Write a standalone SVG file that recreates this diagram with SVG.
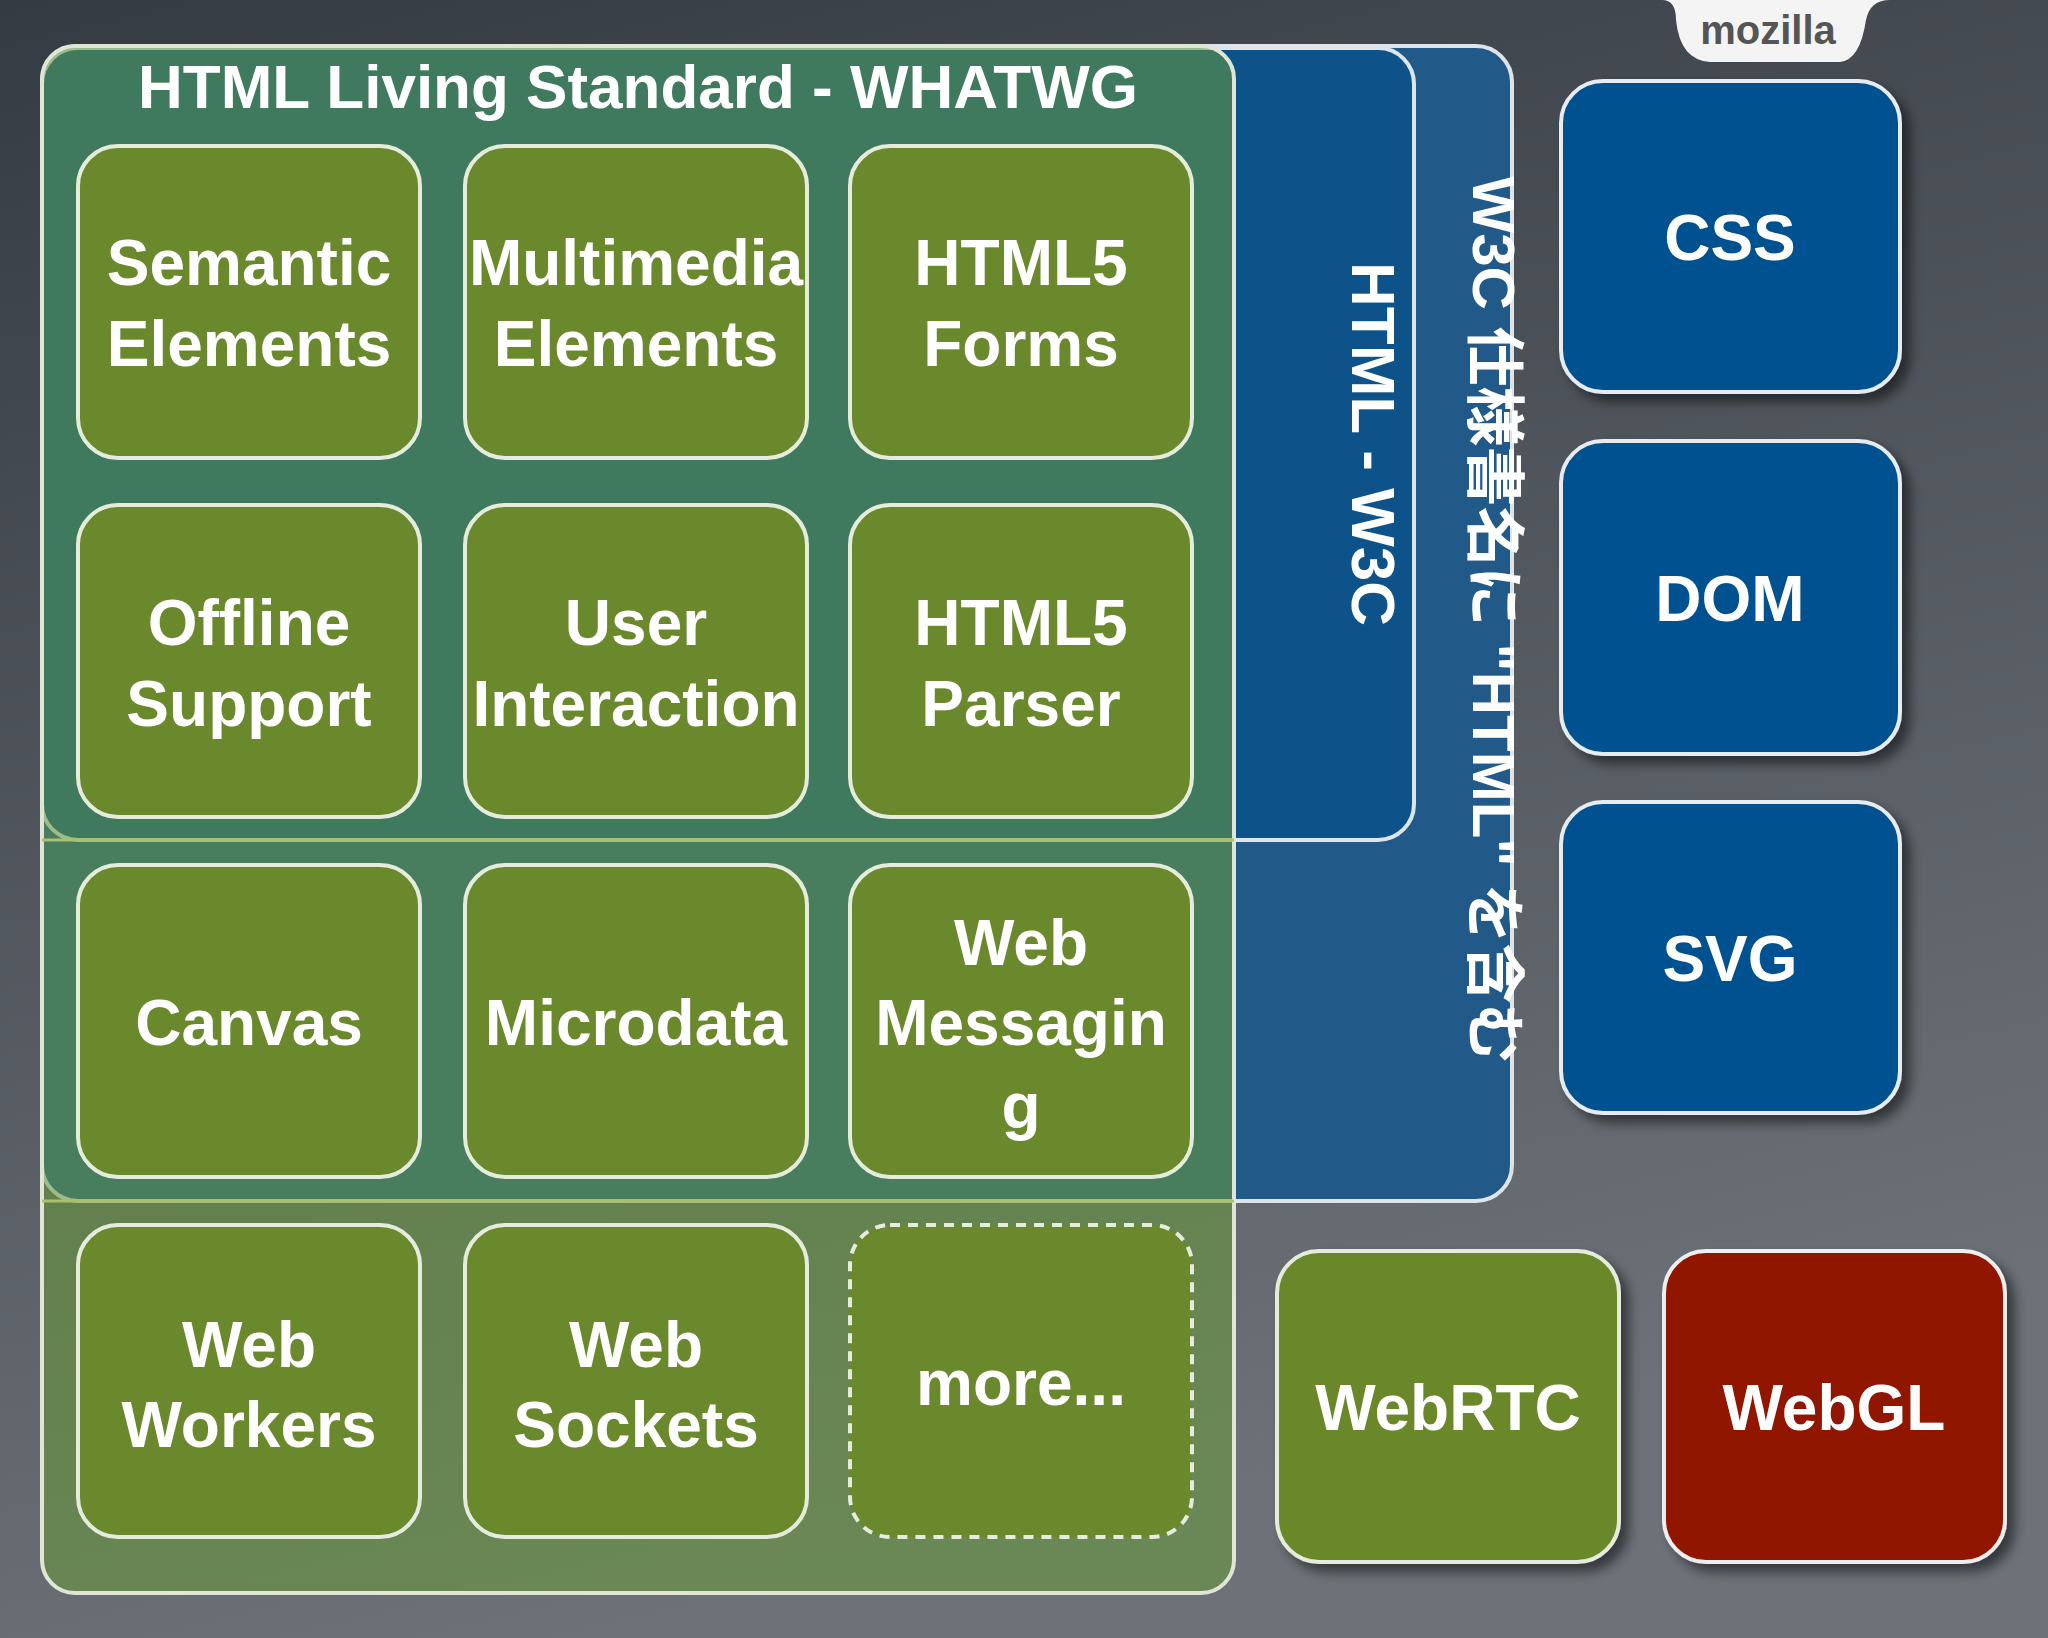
<svg xmlns="http://www.w3.org/2000/svg" width="2048" height="1638" viewBox="0 0 2048 1638">
<defs>
<linearGradient id="bg" x1="0" y1="0" x2="0.3" y2="1"><stop offset="0" stop-color="#353b42"/><stop offset="1" stop-color="#6c7278"/></linearGradient>
<filter id="sh" x="-10%" y="-10%" width="130%" height="130%"><feDropShadow dx="8" dy="8" stdDeviation="6" flood-color="#000" flood-opacity="0.5"/></filter>
</defs>
<style>
.t{fill:#6a882c;stroke:#e6ecdc;stroke-width:4}
.b{fill:#06518f;stroke:#e6ecf2;stroke-width:4}
.r{fill:#911404;stroke:#eee;stroke-width:4}
text{font-family:"Liberation Sans","Noto Sans CJK JP",sans-serif;font-weight:bold;fill:#fff;text-anchor:middle}
.l{font-size:64px}
</style>
<rect width="2048" height="1638" fill="url(#bg)"/>
<path d="M1662 0 Q1676 0 1676 20 Q1680 60 1710 62 L1840 62 Q1860 60 1866 20 Q1870 0 1890 0 Z" fill="#f4f4f4"/>
<text x="1768" y="44" font-size="40" style="fill:#555">mozilla</text>
<g id="w3c-spec"><rect x="42" y="46" width="1470" height="1155" rx="36" fill="#215a88" stroke="#dde4ea" stroke-width="4"/>
<text transform="translate(1473 620) rotate(90)" font-size="60">W3C 仕様書名に "HTML" を含む</text></g>
<g id="html-w3c"><rect x="42" y="48" width="1372" height="792" rx="36" fill="#0d5289" stroke="#dde4ea" stroke-width="4"/>
<text transform="translate(1352 444) rotate(90)" font-size="62">HTML - W3C</text></g>
<g id="whatwg"><rect x="42" y="46" width="1192" height="1547" rx="33" fill="#6a9a3a" fill-opacity="0.55" stroke="#dfe6d8" stroke-width="4"/>
<line x1="42" y1="840" x2="1234" y2="840" stroke="#a8c070" stroke-width="3"/>
<line x1="42" y1="1201" x2="1234" y2="1201" stroke="#a8c070" stroke-width="3"/>
<text x="638" y="108" font-size="62">HTML Living Standard - WHATWG</text></g>
<g id="semantic"><rect class="t" x="78" y="146" width="342" height="312" rx="40"/><text class="l" x="249" y="285">Semantic</text><text class="l" x="249" y="366">Elements</text></g>
<g id="multimedia"><rect class="t" x="465" y="146" width="342" height="312" rx="40"/><text class="l" x="636" y="285">Multimedia</text><text class="l" x="636" y="366">Elements</text></g>
<g id="forms"><rect class="t" x="850" y="146" width="342" height="312" rx="40"/><text class="l" x="1021" y="285">HTML5</text><text class="l" x="1021" y="366">Forms</text></g>
<g id="offline"><rect class="t" x="78" y="505" width="342" height="312" rx="40"/><text class="l" x="249" y="645">Offline</text><text class="l" x="249" y="726">Support</text></g>
<g id="user"><rect class="t" x="465" y="505" width="342" height="312" rx="40"/><text class="l" x="636" y="645">User</text><text class="l" x="636" y="726">Interaction</text></g>
<g id="parser"><rect class="t" x="850" y="505" width="342" height="312" rx="40"/><text class="l" x="1021" y="645">HTML5</text><text class="l" x="1021" y="726">Parser</text></g>
<g id="canvas"><rect class="t" x="78" y="865" width="342" height="312" rx="40"/><text class="l" x="249" y="1045">Canvas</text></g>
<g id="microdata"><rect class="t" x="465" y="865" width="342" height="312" rx="40"/><text class="l" x="636" y="1045">Microdata</text></g>
<g id="messaging"><rect class="t" x="850" y="865" width="342" height="312" rx="40"/><text class="l" x="1021" y="965">Web</text><text class="l" x="1021" y="1045">Messagin</text><text class="l" x="1021" y="1128">g</text></g>
<g id="workers"><rect class="t" x="78" y="1225" width="342" height="312" rx="40"/><text class="l" x="249" y="1367">Web</text><text class="l" x="249" y="1447">Workers</text></g>
<g id="sockets"><rect class="t" x="465" y="1225" width="342" height="312" rx="40"/><text class="l" x="636" y="1367">Web</text><text class="l" x="636" y="1447">Sockets</text></g>
<g id="more"><rect x="850" y="1225" width="342" height="312" rx="40" fill="#6a882c" stroke="#e6ecdc" stroke-width="4" stroke-dasharray="10 8"/><text class="l" x="1021" y="1405">more...</text></g>
<g id="css" filter="url(#sh)"><rect class="b" x="1561" y="81" width="339" height="311" rx="42"/><text class="l" x="1730" y="260">CSS</text></g>
<g id="dom" filter="url(#sh)"><rect class="b" x="1561" y="441" width="339" height="313" rx="42"/><text class="l" x="1730" y="621">DOM</text></g>
<g id="svg" filter="url(#sh)"><rect class="b" x="1561" y="802" width="339" height="311" rx="42"/><text class="l" x="1730" y="981">SVG</text></g>
<g id="webrtc" filter="url(#sh)"><rect class="t" x="1277" y="1251" width="342" height="311" rx="42"/><text class="l" x="1448" y="1430">WebRTC</text></g>
<g id="webgl" filter="url(#sh)"><rect class="r" x="1664" y="1251" width="341" height="311" rx="42"/><text class="l" x="1834" y="1430">WebGL</text></g>
<g id="connectors"/>
</svg>
